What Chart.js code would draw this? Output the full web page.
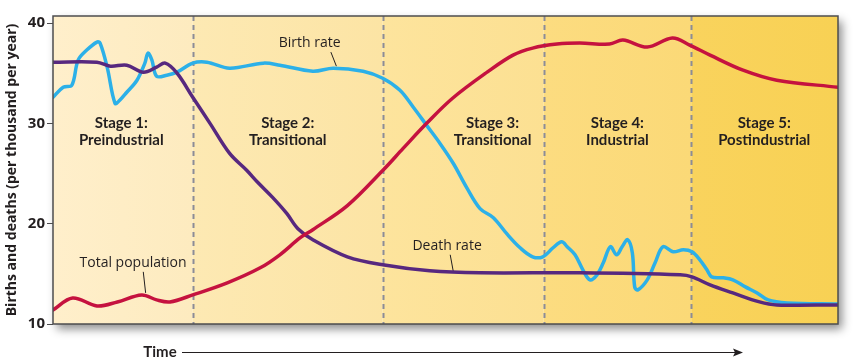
<!DOCTYPE html>
<html>
<head>
<meta charset="utf-8">
<script src="https://cdn.jsdelivr.net/npm/chart.js@4/dist/chart.umd.min.js"></script>
<style>
  html, body { margin: 0; padding: 0; background: #fff; }
  #wrap { width: 867px; height: 363px; position: relative; }
</style>
</head>
<body>
<div id="wrap"><canvas id="dtm"></canvas></div>
<script>
// demographic transition model, time runs 0..100 across the five stages

const birthT = [0, 1.3, 2.4, 3.2, 4.3, 5.6, 6.0, 6.9, 7.9, 8.5, 9.4, 10.7, 11.7, 12.1, 12.6, 13.2, 14.5, 15.8,
    17.8, 19.6, 22.5, 26.8, 28.9, 33.1, 35.7, 39.5, 42.0, 44.2, 45.9, 47.6, 49.3, 51.0, 52.7, 54.4, 56.1,
    57.8, 59.5, 61.1, 62.4, 63.7, 64.8, 65.5, 66.5, 67.5, 68.4, 69.3, 70.1, 71.0, 71.8, 72.5, 73.2, 73.8,
    74.1, 74.5, 75.7, 76.7, 77.7, 79.0, 80.3, 81.4, 82.4, 83.3, 83.9, 85.4, 86.6, 88.2, 89.7, 91.1, 93.5, 100];
const birthRate = [32.6, 33.6, 33.8, 36.3, 37.3, 38.1, 38.0, 35.6, 32.0, 32.3, 33.1, 34.3, 36.0, 37.0, 36.3, 34.7, 34.8, 35.1,
    36.0, 36.1, 35.5, 36.0, 35.8, 35.2, 35.5, 35.2, 34.5, 33.3, 31.6, 29.8, 28.0, 26.0, 23.6, 21.5, 20.6,
    19.0, 17.6, 16.7, 16.7, 17.6, 18.2, 17.7, 16.9, 15.4, 14.4, 14.9, 16.1, 17.7, 16.9, 17.7, 18.4, 17.1,
    13.7, 13.4, 14.4, 16.1, 17.7, 17.2, 17.4, 17.2, 16.4, 15.4, 14.7, 14.6, 14.4, 13.7, 13.1, 12.4, 12.1, 12.0];

const deathT = [0, 5.6, 7.3, 9.4, 11.5, 13.2, 14.3, 15.8, 17.8, 20.0, 22.5, 24.7, 26.1, 28.0, 29.8, 31.2,
    33.1, 37.5, 42.0, 48.0, 54.4, 67.1, 79.9, 81.4, 83.7, 86.6, 90.0, 92.2, 100];
const deathRate = [36.1, 36.1, 35.7, 35.8, 35.1, 35.6, 36.0, 35.0, 32.6, 30.0, 27.0, 25.3, 24.1, 22.6, 21.0, 19.5,
    18.4, 16.7, 15.9, 15.3, 15.1, 15.1, 14.9, 14.7, 13.9, 13.1, 12.2, 11.9, 11.9];

const popT = [0, 2.5, 5.6, 8.2, 11.3, 13.2, 14.9, 17.8, 22.2, 26.4, 28.9, 31.5, 33.1, 37.5, 42.0, 44.6, 47.6,
    50.9, 55.3, 58.6, 61.1, 64.2, 67.1, 70.9, 72.6, 75.7, 78.9, 81.1, 83.7, 87.9, 92.2, 100];
const totalPop = [11.4, 12.6, 11.8, 12.2, 12.9, 12.4, 12.2, 12.9, 14.1, 15.6, 16.9, 18.6, 19.4, 21.8, 25.3, 27.5, 30.0,
    32.5, 35.1, 36.8, 37.5, 37.9, 38.0, 37.9, 38.3, 37.6, 38.5, 37.8, 36.8, 35.3, 34.3, 33.6];

const stageBounds = [0, 17.8, 42.0, 62.5, 81.3, 100];
const stageNames = [['Stage 1:', 'Preindustrial'], ['Stage 2:', 'Transitional'], ['Stage 3:', 'Transitional'],
    ['Stage 4:', 'Industrial'], ['Stage 5:', 'Postindustrial']];
const stageLabelT = [8.7, 29.9, 56.0, 71.9, 90.6];
const stageFrom = ['#ffefcb', '#fde9b3', '#fde49d', '#fcdc80', '#f9d35d'];
const stageTo = ['#fdebbf', '#fce4a4', '#fce092', '#fbd977', '#f8d154'];

const yTicks = [10, 20, 30, 40];

// callouts: text, text position, leader start, leader end
const callouts = [
    { text: 'Birth rate', at: [32.7, 38.0], from: [35.4, 37.1], to: [36.1, 35.7] },
    { text: 'Death rate', at: [50.2, 17.8], from: [50.6, 16.9], to: [51.0, 15.2] },
    { text: 'Total population', at: [10.2, 16.1], from: [11.5, 15.2], to: [11.8, 13.1] }
];

const toPoints = (xs, ys) => xs.map((x, i) => ({ x, y: ys[i] }));
const FONT = "'Open Sans', 'Noto Sans', sans-serif";
const LABEL_FONT = "Lato, 'Open Sans', sans-serif";
const INK = '#231f20';

const decor = {
    id: 'decor',
    beforeDraw(chart) {
        const { ctx, chartArea: a, scales: { x } } = chart;
        ctx.save();
        // frame shadow
        ctx.shadowColor = 'rgba(0,0,0,0.45)';
        ctx.shadowBlur = 9;
        ctx.shadowOffsetX = 4;
        ctx.shadowOffsetY = 5;
        ctx.fillStyle = '#fff';
        ctx.fillRect(a.left, a.top, a.width, a.height);
        ctx.restore();

        ctx.save();
        for (let i = 0; i < 5; i++) {
            const x0 = x.getPixelForValue(stageBounds[i]);
            const x1 = x.getPixelForValue(stageBounds[i + 1]);
            const g = ctx.createLinearGradient(x0, 0, x1, 0);
            g.addColorStop(0, stageFrom[i]);
            g.addColorStop(1, stageTo[i]);
            ctx.fillStyle = g;
            ctx.fillRect(x0, a.top, x1 - x0, a.height);
        }
        // dashed stage dividers
        ctx.strokeStyle = '#8c8c96';
        ctx.lineWidth = 2;
        ctx.setLineDash([5, 4]);
        for (let i = 1; i < 5; i++) {
            const px = Math.round(x.getPixelForValue(stageBounds[i])) + 0.5;
            ctx.beginPath();
            ctx.moveTo(px, a.top);
            ctx.lineTo(px, a.bottom);
            ctx.stroke();
        }
        ctx.setLineDash([]);

        // stage names
        const y = chart.scales.y;
        ctx.fillStyle = INK;
        ctx.font = `bold 15px ${LABEL_FONT}`;
        ctx.textAlign = 'center';
        ctx.textBaseline = 'middle';
        stageNames.forEach((lines, i) => {
            const px = x.getPixelForValue(stageLabelT[i]);
            ctx.fillText(lines[0], px, y.getPixelForValue(30.0));
            ctx.fillText(lines[1], px, y.getPixelForValue(28.3));
        });

        // callouts
        ctx.font = `14px ${FONT}`;
        ctx.lineWidth = 1;
        ctx.strokeStyle = INK;
        callouts.forEach(c => {
            ctx.fillText(c.text, x.getPixelForValue(c.at[0]), y.getPixelForValue(c.at[1]));
            ctx.beginPath();
            ctx.moveTo(x.getPixelForValue(c.from[0]), y.getPixelForValue(c.from[1]));
            ctx.lineTo(x.getPixelForValue(c.to[0]), y.getPixelForValue(c.to[1]));
            ctx.stroke();
        });
        ctx.restore();
    },
    afterDraw(chart) {
        const { ctx, chartArea: a } = chart;
        ctx.save();
        ctx.strokeStyle = '#4d4d4f';
        ctx.lineWidth = 1.5;
        ctx.strokeRect(a.left, a.top, a.width, a.height);

        // time axis with arrow
        const ty = 352;
        ctx.fillStyle = INK;
        ctx.font = `bold 15px ${LABEL_FONT}`;
        ctx.textAlign = 'center';
        ctx.textBaseline = 'middle';
        ctx.fillText('Time', 160, ty);
        ctx.strokeStyle = INK;
        ctx.lineWidth = 1.2;
        ctx.beginPath();
        ctx.moveTo(182, ty + 0.5);
        ctx.lineTo(736, ty + 0.5);
        ctx.stroke();
        ctx.beginPath();
        ctx.moveTo(743, ty + 0.5);
        ctx.lineTo(733, ty - 3.5);
        ctx.lineTo(735, ty + 0.5);
        ctx.lineTo(733, ty + 4.5);
        ctx.closePath();
        ctx.fill();
        ctx.restore();
    }
};

const lineStyle = (color) => ({
    borderColor: color,
    borderWidth: 3.5,
    pointRadius: 0,
    tension: 0.35,
    fill: false,
    borderCapStyle: 'round',
    borderJoinStyle: 'round'
});

new Chart(document.getElementById('dtm'), {
    type: 'line',
    data: {
        datasets: [
            { label: 'Total population', data: toPoints(popT, totalPop), ...lineStyle('#c5123f') },
            { label: 'Death rate', data: toPoints(deathT, deathRate), ...lineStyle('#57287f') },
            { label: 'Birth rate', data: toPoints(birthT, birthRate), ...lineStyle('#2cb0e8') }
        ]
    },
    options: {
        responsive: true,
        maintainAspectRatio: false,
        animation: false,
        layout: { padding: { top: 16, right: 29, bottom: 39, left: 0 } },
        plugins: { legend: { display: false }, tooltip: { enabled: false } },
        scales: {
            x: { type: 'linear', min: 0, max: 100, display: false },
            y: {
                min: 10,
                max: 40.7,
                afterFit: s => { s.width = 53; },
                afterBuildTicks: s => { s.ticks = yTicks.map(v => ({ value: v })); },
                grid: { drawOnChartArea: false, drawTicks: true, tickLength: 6, color: '#4d4d4f' },
                border: { display: false },
                ticks: { color: INK, padding: 2, font: { family: FONT, size: 15, weight: 'bold' } },
                title: {
                    display: true,
                    text: 'Births and deaths (per thousand per year)',
                    color: INK,
                    padding: { top: 4, bottom: 2 },
                    font: { family: FONT, size: 14, weight: 'bold' }
                }
            }
        }
    },
    plugins: [decor]
});
</script>
</body>
</html>
